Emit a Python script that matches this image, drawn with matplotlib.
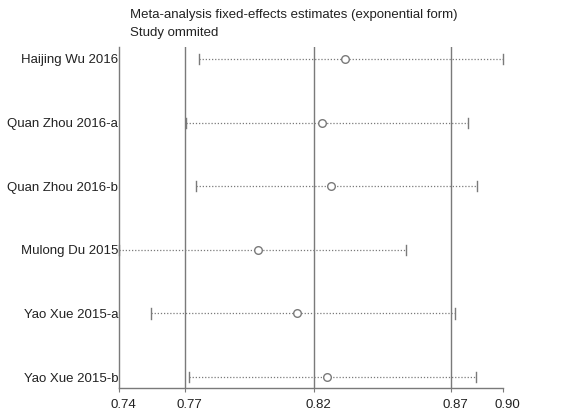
import matplotlib
matplotlib.use("Agg")
import matplotlib.pyplot as plt
import matplotlib.transforms as mtransforms

plt.rcParams['font.family'] = ['Liberation Sans', 'DejaVu Sans']

studies = ["Haijing Wu 2016", "Quan Zhou 2016-a", "Quan Zhou 2016-b",
           "Mulong Du 2015", "Yao Xue 2015-a", "Yao Xue 2015-b"]
estimate = [0.8331, 0.8237, 0.8274, 0.7985, 0.8140, 0.8258]
lower = [0.7755, 0.7702, 0.7742, 0.7440, 0.7565, 0.7715]
upper = [0.8951, 0.8814, 0.8848, 0.8571, 0.8764, 0.8844]
overall = [0.7700, 0.8207, 0.8746]  # lower CI, estimate, upper CI
axis_min, axis_max = 0.7440, 0.8951
tick_labels = ["0.74", "0.77", "0.82", "0.87", "0.90"]

fig = plt.figure(figsize=(5.68, 4.17), dpi=100)
ax = fig.add_axes([0.2095, 0.0695, 0.8856 - 0.2095, 0.8873 - 0.0695])

gray = "#7a7a7a"
ypos = list(range(1, len(studies) + 1))

for v in overall:
    ax.axvline(v, color=gray, lw=1.0, zorder=1)

for y, lo, hi, est in zip(ypos, lower, upper, estimate):
    ax.plot([lo, hi], [y, y], color=gray, lw=0.9, ls=(0, (1, 1.5)), zorder=2, clip_on=False)
    ax.plot([lo, lo], [y - 0.08, y + 0.08], color=gray, lw=1.0, zorder=2, clip_on=False)
    ax.plot([hi, hi], [y - 0.08, y + 0.08], color=gray, lw=1.0, zorder=2, clip_on=False)
    ax.plot(est, y, 'o', ms=5.5, mfc='white', mec=gray, mew=1.0, zorder=3)

ax.set_xlim(axis_min, axis_max)
ax.set_ylim(6 + 11 / 63.6, 1 - 12 / 63.6)
ax.set_yticks(ypos)
ax.set_yticklabels(studies, fontsize=9.5, color="#222222")
ax.tick_params(axis='y', length=0, pad=0.5)

xt = [axis_min] + overall + [axis_max]
ax.set_xticks(xt)
ax.set_xticklabels(tick_labels, fontsize=9.5, color="#222222")
ax.tick_params(axis='x', length=3, color=gray, pad=5)
offset = mtransforms.ScaledTranslation(4 / 100, 0, fig.dpi_scale_trans)
for lab in ax.get_xticklabels():
    lab.set_transform(lab.get_transform() + offset)

for s in ['top', 'right']:
    ax.spines[s].set_visible(False)
for s in ['left', 'bottom']:
    ax.spines[s].set_color(gray)
    ax.spines[s].set_linewidth(1.0)

fig.text(130 / 568, 1 - 15 / 417, "Meta-analysis fixed-effects estimates (exponential form)",
         fontsize=9.5, color="#222222", va='center', ha='left')
fig.text(130 / 568, 1 - 33 / 417, "Study ommited",
         fontsize=9.5, color="#222222", va='center', ha='left')

fig.savefig("out.png", dpi=100)
